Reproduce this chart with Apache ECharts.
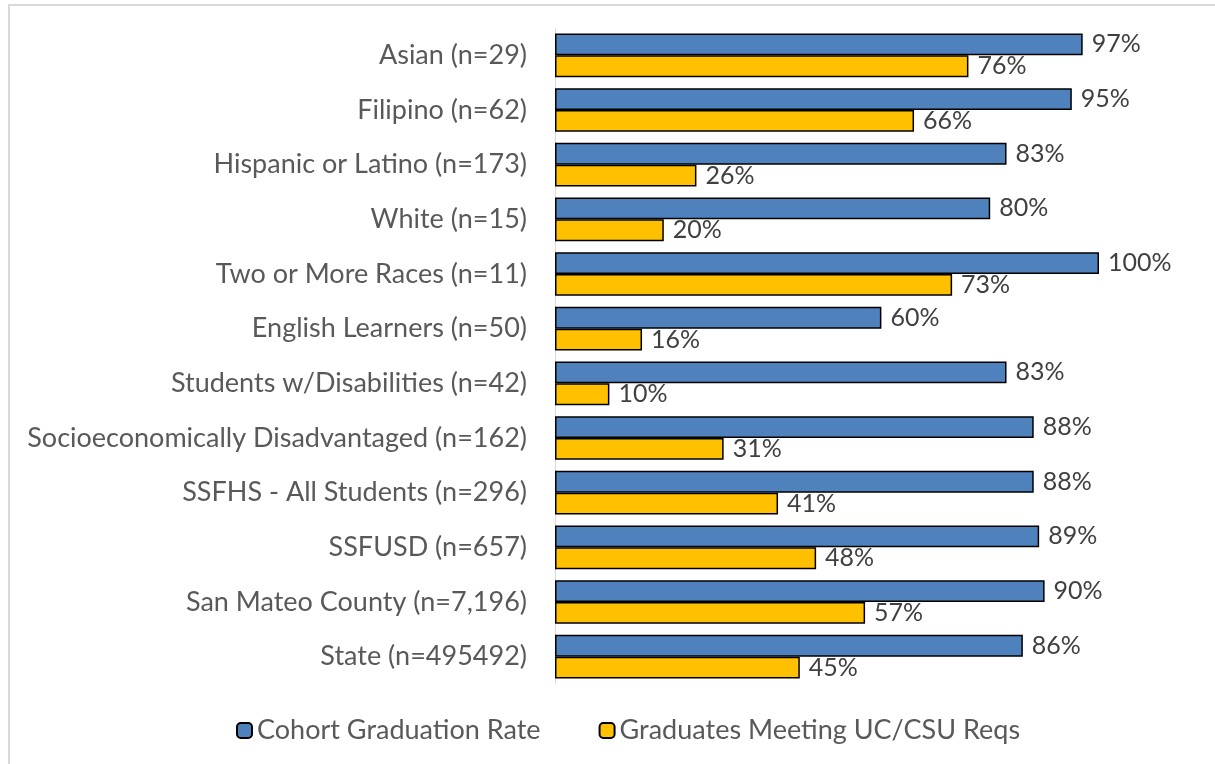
<!DOCTYPE html>
<html>
<head>
<meta charset="utf-8">
<script src="https://cdn.jsdelivr.net/npm/echarts@6/dist/echarts.min.js"></script>
<style>
html,body{margin:0;padding:0;background:#fff;}
#c{width:1215px;height:764px;}
</style>
</head>
<body>
<div id="c"></div>
<script>
const categories = [
  'Asian (n=29)',
  'Filipino (n=62)',
  'Hispanic or Latino (n=173)',
  'White (n=15)',
  'Two or More Races (n=11)',
  'English Learners (n=50)',
  'Students w/Disabilities (n=42)',
  'Socioeconomically Disadvantaged (n=162)',
  'SSFHS - All Students (n=296)',
  'SSFUSD (n=657)',
  'San Mateo County (n=7,196)',
  'State (n=495492)'
];
const seriesNames = ['Cohort Graduation Rate', 'Graduates Meeting UC/CSU Reqs'];
const cohortRate = [97, 95, 83, 80, 100, 60, 83, 88, 88, 89, 90, 86];
const ucCsuRate = [76, 66, 26, 20, 73, 16, 10, 31, 41, 48, 57, 45];

const chart = echarts.init(document.getElementById('c'));
const FONT = 'Lato';
const labelCfg = {
  show: true,
  position: 'right',
  distance: 9,
  formatter: '{c}%',
  fontFamily: FONT,
  fontSize: 25,
  color: '#404040'
};
chart.setOption({
  animation: false,
  backgroundColor: '#fff',
  graphic: [{
    type: 'polyline',
    shape: { points: [[9, 764], [9, 5], [1215, 5]] },
    style: { stroke: '#d9d9d9', lineWidth: 2, fill: null }
  }],
  grid: { left: 555, right: 116, top: 28, bottom: 80, containLabel: false },
  legend: {
    left: 231,
    top: 712,
    itemWidth: 15,
    itemHeight: 15,
    itemGap: 58,
    textStyle: { fontFamily: FONT, fontSize: 27, color: '#595959' },
    data: seriesNames
  },
  xAxis: {
    type: 'value',
    min: 0,
    max: 100,
    show: false
  },
  yAxis: {
    type: 'category',
    inverse: true,
    data: categories,
    axisLine: { show: true, lineStyle: { color: '#d9d9d9', width: 1 } },
    axisTick: { show: false },
    axisLabel: { fontFamily: FONT, fontSize: 27, color: '#595959', margin: 28 }
  },
  series: [
    {
      name: seriesNames[0],
      type: 'bar',
      data: cohortRate,
      barGap: '0%',
      barCategoryGap: '20%',
      itemStyle: { color: '#4F81BD', borderColor: '#000', borderWidth: 1.5 },
      label: labelCfg
    },
    {
      name: seriesNames[1],
      type: 'bar',
      data: ucCsuRate,
      barGap: '0%',
      barCategoryGap: '20%',
      itemStyle: { color: '#FFC000', borderColor: '#000', borderWidth: 1.5 },
      label: labelCfg
    }
  ]
});
</script>
</body>
</html>
